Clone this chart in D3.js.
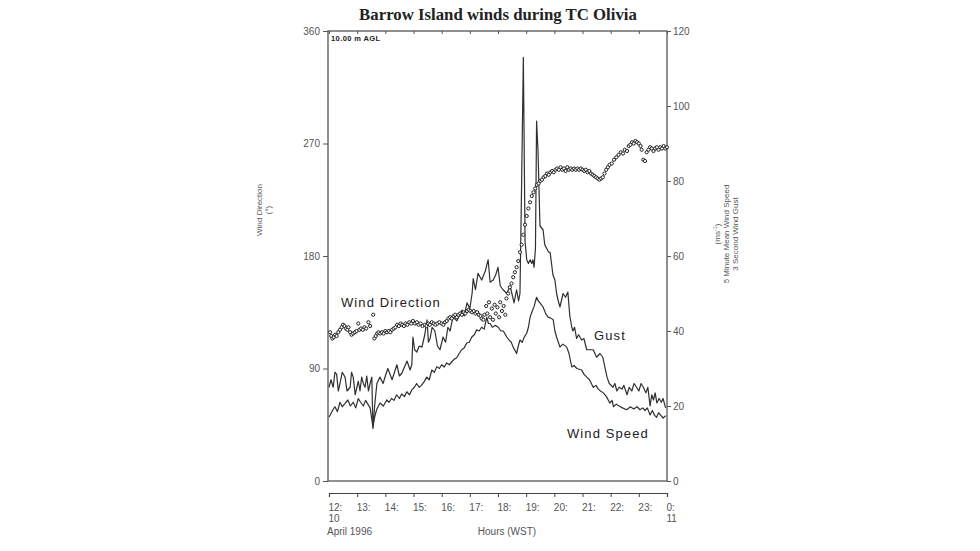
<!DOCTYPE html>
<html>
<head>
<meta charset="utf-8">
<script src="https://cdn.jsdelivr.net/npm/d3@7"></script>
<style>
  html, body { margin: 0; padding: 0; background: #fff; }
  svg { display: block; }
  .tick text { font-family: "Liberation Sans", Arial, sans-serif; font-size: 10px; fill: #555; }
</style>
</head>
<body>
<div id="chart"></div>
<script>
// Hours are decimal clock hours on 10 April 1996 (24 = 0:00 on the 11th)
const hourTicks = [12, 13, 14, 15, 16, 17, 18, 19, 20, 21, 22, 23, 24];
const hourLabels = ["12:", "13:", "14:", "15:", "16:", "17:", "18:", "19:", "20:", "21:", "22:", "23:", "0:"];
const dirTicks = [0, 90, 180, 270, 360];
const speedTicks = [0, 20, 40, 60, 80, 100, 120];

// 3 second gust (m/s)
const gustHours = [12.00, 12.07, 12.15, 12.21, 12.27, 12.33, 12.39, 12.47, 12.57, 12.64, 12.75, 12.80,
  12.86, 12.93, 13.04, 13.10, 13.16, 13.22, 13.28, 13.34, 13.40, 13.46, 13.52, 13.56, 13.62, 13.70,
  13.81, 13.92, 14.00, 14.09, 14.24, 14.41, 14.50, 14.59, 14.77, 14.88, 14.94, 14.98, 15.04, 15.12,
  15.20, 15.30, 15.40, 15.48, 15.53, 15.59, 15.66, 15.76, 15.85, 15.94, 16.05, 16.14, 16.22, 16.30,
  16.40, 16.54, 16.62, 16.72, 16.80, 16.90, 17.00, 17.08, 17.12, 17.20, 17.29, 17.42, 17.55, 17.65,
  17.72, 17.83, 17.92, 18.00, 18.08, 18.18, 18.31, 18.43, 18.57, 18.66, 18.73, 18.78, 18.84, 18.90,
  18.96, 19.02, 19.08, 19.14, 19.20, 19.24, 19.28, 19.33, 19.37, 19.42, 19.49, 19.60, 19.66, 19.73,
  19.80, 19.85, 19.95, 20.02, 20.08, 20.14, 20.20, 20.31, 20.40, 20.48, 20.55, 20.62, 20.66, 20.72,
  20.79, 20.86, 20.97, 21.05, 21.15, 21.27, 21.38, 21.50, 21.62, 21.72, 21.87, 21.95, 22.08, 22.15,
  22.22, 22.30, 22.40, 22.47, 22.58, 22.66, 22.75, 22.83, 22.92, 23.00, 23.08, 23.16, 23.25, 23.32,
  23.40, 23.46, 23.52, 23.58, 23.64, 23.72, 23.80, 23.86, 23.95];
const gust = [25, 27, 25, 29, 28.5, 24, 26, 29, 27.7, 24, 25, 29,
  27.7, 23, 26.6, 24, 27.7, 26, 25, 28, 24, 26, 27.7, 14, 20, 26,
  27.7, 26, 28, 30, 27, 31, 28, 28.8, 32, 29.6, 31, 38.4, 35, 34.4,
  36, 35.7, 39, 43, 37, 38, 41, 40, 36, 35, 38.4, 37, 41, 40,
  43.7, 42.7, 44, 45.6, 44, 47.5, 46, 50, 54, 51, 55.4, 53.6, 56, 59,
  53, 53.6, 55, 57, 52, 51, 50, 52, 47.5, 51, 48, 50, 80, 113,
  64, 59, 58, 59, 58, 59, 57, 62, 96, 88, 68, 67, 63, 62,
  61, 61, 55, 53.6, 50, 48, 46.4, 50, 49, 50.4, 44, 41, 40, 41,
  38, 39, 37.6, 38, 35, 35, 35, 33, 34, 33, 27.7, 26, 25, 26,
  24, 25, 24.5, 25.5, 23, 25, 24, 26, 25, 24, 26, 25, 23.5, 25,
  20, 23, 21.6, 23.5, 20.8, 22, 21, 22, 19.5];

// 5 minute mean wind speed (m/s)
const speedHours = [12.00, 12.07, 12.14, 12.21, 12.30, 12.39, 12.47, 12.55, 12.67, 12.76, 12.86, 12.95,
  13.04, 13.12, 13.22, 13.30, 13.38, 13.46, 13.56, 13.62, 13.69, 13.81, 13.93, 14.05, 14.13, 14.22,
  14.31, 14.40, 14.50, 14.58, 14.68, 14.76, 14.86, 14.94, 15.03, 15.11, 15.20, 15.28, 15.38, 15.47,
  15.56, 15.65, 15.74, 15.83, 15.92, 16.00, 16.09, 16.18, 16.27, 16.36, 16.45, 16.53, 16.62, 16.71,
  16.80, 16.89, 16.98, 17.07, 17.16, 17.24, 17.33, 17.42, 17.51, 17.60, 17.66, 17.72, 17.80, 17.90,
  18.01, 18.10, 18.19, 18.31, 18.40, 18.47, 18.54, 18.66, 18.72, 18.78, 18.86, 18.94, 19.02, 19.08,
  19.14, 19.20, 19.28, 19.37, 19.43, 19.49, 19.60, 19.70, 19.78, 19.86, 19.96, 20.02, 20.08, 20.20,
  20.30, 20.44, 20.52, 20.62, 20.70, 20.80, 20.97, 21.05, 21.15, 21.25, 21.38, 21.48, 21.56, 21.64,
  21.74, 21.85, 21.97, 22.05, 22.10, 22.20, 22.30, 22.42, 22.57, 22.70, 22.82, 22.94, 23.04, 23.14,
  23.22, 23.30, 23.40, 23.48, 23.56, 23.63, 23.70, 23.78, 23.86, 23.95];
const speed = [17, 18, 19, 19.8, 18.5, 21, 19.8, 20.5, 21.6, 20, 21, 19.5,
  22, 21, 20, 21.5, 20.5, 19.5, 14.4, 17, 19, 20.8, 20, 21.6, 21, 22,
  21.5, 23, 22, 23.2, 22.5, 23.8, 23, 24.3, 25, 26, 25, 25.5, 26.5, 27.7,
  27, 29.6, 29, 30.5, 30, 31, 30.4, 31.5, 31, 31.8, 32.5, 32.8, 34, 35,
  35.5, 36.8, 37, 38.4, 39, 40.3, 40, 41, 40.5, 43.7, 42, 42, 41, 41.5,
  41, 40, 40, 38.4, 37.5, 37, 35.7, 34, 36, 37.6, 37, 38.5, 39.4, 41,
  43.7, 45, 46.5, 49, 48, 47.5, 46.4, 44.5, 43.7, 43.5, 43, 40, 38.4, 35.7,
  36.5, 35.7, 34, 30.4, 30.8, 30, 29.6, 28.5, 27.7, 27, 25, 25.5, 24.5, 24,
  23.5, 22.5, 20.8, 21.5, 19.8, 20.5, 20, 19.5, 19, 19.8, 19.2, 19.8, 19, 19.5,
  18.8, 19.5, 17.6, 18.8, 17.5, 17, 18.2, 17.5, 16.8, 17.4];

// wind direction (degrees)
const dirHours = [12.04, 12.08, 12.12, 12.17, 12.22, 12.27, 12.33, 12.39, 12.45, 12.50, 12.55, 12.60,
  12.65, 12.69, 12.75, 12.80, 12.86, 12.92, 12.98, 13.04, 13.08, 13.14, 13.20, 13.26, 13.32, 13.40,
  13.46, 13.57, 13.61, 13.66, 13.71, 13.76, 13.82, 13.88, 13.94, 14.00, 14.06, 14.12, 14.18, 14.24,
  14.30, 14.36, 14.42, 14.48, 14.54, 14.60, 14.66, 14.72, 14.78, 14.85, 14.92, 14.98, 15.05, 15.12,
  15.18, 15.25, 15.32, 15.40, 15.46, 15.52, 15.58, 15.65, 15.72, 15.78, 15.85, 15.92, 16.00, 16.06,
  16.12, 16.18, 16.24, 16.30, 16.36, 16.42, 16.48, 16.54, 16.60, 16.66, 16.72, 16.78, 16.84, 16.90,
  16.96, 17.02, 17.08, 17.14, 17.20, 17.26, 17.32, 17.38, 17.42, 17.48, 17.52, 17.58, 17.62, 17.68,
  17.72, 17.78, 17.82, 17.88, 17.92, 17.98, 18.04, 18.08, 18.14, 18.20, 18.26, 18.30, 18.36, 18.42,
  18.48, 18.54, 18.60, 18.66, 18.72, 18.78, 18.84, 18.90, 18.96, 19.02, 19.08, 19.14, 19.20, 19.26,
  19.32, 19.38, 19.44, 19.50, 19.56, 19.62, 19.68, 19.74, 19.80, 19.86, 19.92, 19.98, 20.04, 20.10,
  20.16, 20.22, 20.28, 20.34, 20.40, 20.46, 20.52, 20.58, 20.64, 20.70, 20.76, 20.82, 20.88, 20.94,
  21.00, 21.06, 21.12, 21.18, 21.24, 21.30, 21.36, 21.42, 21.48, 21.54, 21.60, 21.66, 21.72, 21.78,
  21.84, 21.90, 21.96, 22.04, 22.12, 22.20, 22.28, 22.36, 22.44, 22.50, 22.58, 22.64, 22.70, 22.76,
  22.82, 22.88, 22.94, 23.00, 23.06, 23.10, 23.16, 23.22, 23.28, 23.34, 23.40, 23.46, 23.52, 23.58,
  23.64, 23.70, 23.76, 23.82, 23.88, 23.94, 24.00];
const direction = [119, 116, 114, 115, 117, 116, 119, 121, 123, 125, 124, 122,
  121, 123, 119, 117, 118, 119, 120, 126, 121, 122, 121, 123, 122, 127,
  124, 133, 114, 116, 118, 119, 118, 119, 118, 120, 119, 120, 119, 121,
  122, 123, 125, 124, 126, 125, 124, 126, 125, 127, 126, 128, 126, 127,
  125, 126, 124, 125, 124, 126, 125, 127, 126, 125, 126, 127, 126, 125,
  127, 128, 130, 131, 130, 132, 133, 131, 133, 134, 133, 135, 134, 136,
  137, 136, 135, 136, 134, 135, 133, 132, 130, 129, 133, 140, 134, 143,
  131, 138, 129, 141, 134, 139, 131, 143, 136, 140, 133, 146, 150, 155,
  158, 163, 167, 171, 176, 183, 189, 197, 205, 212, 218, 223, 228, 231,
  234, 237, 238, 240, 241, 243, 244, 246, 245, 247, 248, 247, 249, 250,
  249, 251, 249, 250, 248, 251, 249, 250, 249, 250, 249, 250, 249, 250,
  249, 248, 249, 247, 248, 246, 245, 244, 243, 242, 241, 242, 243, 246,
  249, 251, 253, 254, 257, 259, 261, 263, 262, 265, 264, 268, 269, 271,
  270, 272, 271, 270, 268, 265, 257, 256, 263, 265, 267, 266, 264, 266,
  267, 265, 267, 266, 268, 266, 267];

const width = 980, height = 551;
const plot = { left: 328, right: 667, top: 31, bottom: 481 };
const axisY = 493;
const ink = "#303030";
const sans = '"Liberation Sans", Arial, sans-serif';

const svg = d3.select("#chart").append("svg")
  .attr("width", width)
  .attr("height", height);

const x = d3.scaleLinear().domain([12, 24]).range([plot.left + 1, plot.right]);
const yDir = d3.scaleLinear().domain([0, 360]).range([plot.bottom, plot.top]);
const ySpd = d3.scaleLinear().domain([0, 120]).range([plot.bottom, plot.top]);

// title
svg.append("text")
  .attr("x", 498).attr("y", 20)
  .attr("text-anchor", "middle")
  .attr("font-family", '"Liberation Serif", "Times New Roman", serif')
  .attr("font-weight", "bold")
  .attr("font-size", 16.8)
  .attr("fill", "#222")
  .text("Barrow Island winds during TC Olivia");

// frame
svg.append("rect")
  .attr("x", plot.left).attr("y", plot.top)
  .attr("width", plot.right - plot.left)
  .attr("height", plot.bottom - plot.top)
  .attr("fill", "none")
  .attr("stroke", "#555")
  .attr("stroke-width", 1.3);

// left axis: wind direction
const gLeft = svg.append("g")
  .attr("transform", `translate(${plot.left},0)`)
  .call(d3.axisLeft(yDir).tickValues(dirTicks).tickSize(5).tickPadding(3));
gLeft.select(".domain").remove();
gLeft.selectAll(".tick line").attr("stroke", "#555");

// right axis: speed
const gRight = svg.append("g")
  .attr("transform", `translate(${plot.right},0)`)
  .call(d3.axisRight(ySpd).tickValues(speedTicks).tickSize(4).tickPadding(2));
gRight.select(".domain").remove();
gRight.selectAll(".tick line").attr("stroke", "#555");

// hourly ticks inside the top edge
const gTop = svg.append("g")
  .attr("transform", `translate(0,${plot.top})`)
  .call(d3.axisBottom(x).tickValues(hourTicks).tickSize(3).tickFormat(""));
gTop.select(".domain").remove();
gTop.selectAll(".tick line").attr("stroke", "#555");

// separate time axis below the frame
const gTime = svg.append("g")
  .attr("transform", `translate(0,${axisY})`)
  .call(d3.axisBottom(x).tickValues(hourTicks).tickSize(4).tickPadding(7)
    .tickFormat((d, i) => hourLabels[i]));
gTime.select(".domain").attr("stroke", "#444").attr("stroke-width", 1.2);
gTime.selectAll(".tick line").attr("stroke", "#444");
gTime.selectAll(".tick text").attr("text-anchor", "start").attr("dx", -1);
gTime.selectAll(".tick")
  .filter(d => d === 12 || d === 24)
  .append("text")
  .attr("x", -1).attr("y", 29)
  .attr("text-anchor", "start")
  .attr("fill", "#555")
  .text(d => d === 12 ? "10" : "11");

svg.append("text")
  .attr("x", 327).attr("y", 535)
  .attr("font-family", sans).attr("font-size", 10).attr("fill", "#555")
  .text("April 1996");
svg.append("text")
  .attr("x", 507).attr("y", 535)
  .attr("text-anchor", "middle")
  .attr("font-family", sans).attr("font-size", 10).attr("fill", "#555")
  .text("Hours (WST)");

// axis titles
const leftTitle = svg.append("text")
  .attr("transform", "translate(262,210) rotate(-90)")
  .attr("text-anchor", "middle")
  .attr("font-family", sans).attr("font-size", 8).attr("fill", "#555");
leftTitle.append("tspan").attr("x", 0).attr("dy", 0).text("Wind Direction");
leftTitle.append("tspan").attr("x", 0).attr("dy", 9).text("(°)");

const rightTitle = svg.append("text")
  .attr("transform", "translate(720,234) rotate(-90)")
  .attr("text-anchor", "middle")
  .attr("font-family", sans).attr("font-size", 8).attr("fill", "#555");
const unit = rightTitle.append("tspan").attr("x", 0).attr("dy", 0);
unit.append("tspan").text("(ms");
unit.append("tspan").attr("dy", -3).attr("font-size", 5.5).text("-1");
unit.append("tspan").attr("dy", 3).text(")");
rightTitle.append("tspan").attr("x", 0).attr("dy", 9).text("5 Minute Mean Wind Speed");
rightTitle.append("tspan").attr("x", 0).attr("dy", 9).text("3 Second Wind Gust");

// series
const gustLine = d3.line().x((d, i) => x(gustHours[i])).y(d => ySpd(d));
const speedLine = d3.line().x((d, i) => x(speedHours[i])).y(d => ySpd(d));

svg.append("path")
  .attr("d", gustLine(gust))
  .attr("fill", "none").attr("stroke", ink).attr("stroke-width", 1.2)
  .attr("stroke-linejoin", "round");
svg.append("path")
  .attr("d", speedLine(speed))
  .attr("fill", "none").attr("stroke", ink).attr("stroke-width", 1.2)
  .attr("stroke-linejoin", "round");

svg.append("g").selectAll("circle")
  .data(direction)
  .join("circle")
  .attr("cx", (d, i) => x(dirHours[i]))
  .attr("cy", d => yDir(d))
  .attr("r", 1.6)
  .attr("fill", "#fff")
  .attr("stroke", "#222")
  .attr("stroke-width", 1);

// in-plot labels
svg.append("text")
  .attr("x", 331).attr("y", 41)
  .attr("font-family", sans).attr("font-size", 7.5).attr("font-weight", "bold")
  .attr("letter-spacing", 0.4)
  .attr("fill", "#222")
  .text("10.00 m AGL");

const labelStyle = sel => sel
  .attr("font-family", sans).attr("font-size", 13).attr("fill", "#222")
  .attr("letter-spacing", 1.1);
svg.append("text").attr("x", 341).attr("y", 307).call(labelStyle).text("Wind Direction");
svg.append("text").attr("x", 594).attr("y", 340).call(labelStyle).text("Gust");
svg.append("text").attr("x", 567).attr("y", 438).call(labelStyle).text("Wind Speed");
</script>
</body>
</html>
